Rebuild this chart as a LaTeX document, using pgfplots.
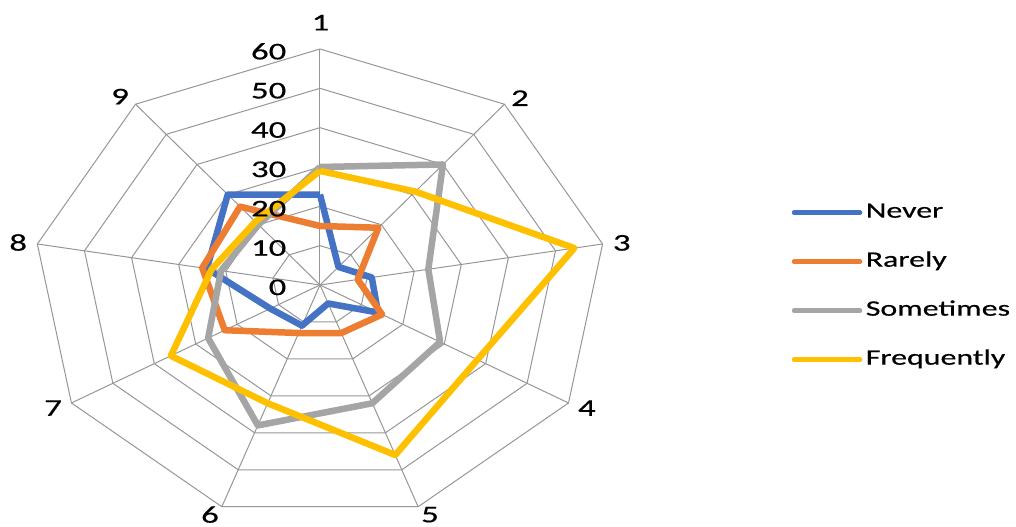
\documentclass[border=0pt]{standalone}
\usepackage{pgfplots}
\pgfplotsset{compat=1.18}
\usepackage{pgfplotstable}
\usepackage{fontspec}
\setmainfont{Carlito}[FakeStretch=1.45, FakeBold=0.5]

\definecolor{cnever}{RGB}{68,114,196}
\definecolor{crarely}{RGB}{237,125,49}
\definecolor{csome}{RGB}{165,165,165}
\definecolor{cfreq}{RGB}{255,192,0}
\definecolor{cgrid}{RGB}{150,150,150}

% a = angle of the spoke (degrees), values per series
\pgfplotstableread{
a     never rarely sometimes frequently
90    23    15     30        29
50    6     19     40        31
10    11    8      23        54
-30   14    15     29        38
-70   5     13     32        46
-110  11    13     38        32
-150  12    23     27        36
-190  24    25     21        23
-230  30    26     20        21
-270  23    15     30        29
}\datatable

\begin{document}
\begin{tikzpicture}
\begin{axis}[
  name=ax,
  hide axis,
  x=4.783pt, y=3.933pt,
  xmin=-66.90, xmax=145.52,
  ymin=-61.53, ymax=72.46,
  clip=false,
  legend style={
    at={(axis cs:98.6,-0.3)}, anchor=west,
    draw=none, fill=none, inner sep=0pt,
    font=\fontsize{22}{26}\selectfont,
    row sep=22pt,
    nodes={inner sep=3.5pt, text height=15pt, text depth=5pt},
  },
  legend cell align=left,
  legend image code/.code={\draw[#1, line width=4.5pt, line cap=round] (0pt,0pt) -- (66pt,0pt);},
]
% grid rings
\pgfplotsinvokeforeach{10,20,30,40,50,60}{
  \addplot[cgrid, line width=1pt, forget plot] table[x expr={#1*cos(\thisrow{a})}, y expr={#1*sin(\thisrow{a})}] {\datatable};
}
% spokes
\pgfplotsinvokeforeach{90,50,10,-30,-70,-110,-150,-190,-230}{
  \draw[cgrid, line width=1pt] (axis cs:0,0) -- (axis cs:{60*cos(#1)},{60*sin(#1)});
}

\addplot[cnever, line width=6.5pt, line join=round] table[x expr={\thisrow{never}*cos(\thisrow{a})}, y expr={\thisrow{never}*sin(\thisrow{a})}] {\datatable};
\addlegendentry{Never}
\addplot[crarely, line width=6.5pt, line join=round] table[x expr={\thisrow{rarely}*cos(\thisrow{a})}, y expr={\thisrow{rarely}*sin(\thisrow{a})}] {\datatable};
\addlegendentry{Rarely}
\addplot[csome, line width=6.5pt, line join=round] table[x expr={\thisrow{sometimes}*cos(\thisrow{a})}, y expr={\thisrow{sometimes}*sin(\thisrow{a})}] {\datatable};
\addlegendentry{Sometimes}
\addplot[cfreq, line width=6.5pt, line join=round] table[x expr={\thisrow{frequently}*cos(\thisrow{a})}, y expr={\thisrow{frequently}*sin(\thisrow{a})}] {\datatable};
\addlegendentry{Frequently}

% radial tick labels
\pgfplotsinvokeforeach{0,10,20,30,40,50,60}{
  \node[anchor=east, inner sep=0pt, font=\fontsize{24}{28}\selectfont] at (axis cs:-7.0,{#1-0.6}) {#1};
}
% category labels
\node[inner sep=0pt, font=\fontsize{24}{28}\selectfont] at (axis cs:0.1,66.7) {1};
\node[inner sep=0pt, font=\fontsize{24}{28}\selectfont] at (axis cs:41.8,47.5) {2};
\node[inner sep=0pt, font=\fontsize{24}{28}\selectfont] at (axis cs:63.1,10.7) {3};
\node[inner sep=0pt, font=\fontsize{24}{28}\selectfont] at (axis cs:55.8,-31.3) {4};
\node[inner sep=0pt, font=\fontsize{24}{28}\selectfont] at (axis cs:23.0,-58.4) {5};
\node[inner sep=0pt, font=\fontsize{24}{28}\selectfont] at (axis cs:-23.0,-58.4) {6};
\node[inner sep=0pt, font=\fontsize{24}{28}\selectfont] at (axis cs:-55.8,-31.3) {7};
\node[inner sep=0pt, font=\fontsize{24}{28}\selectfont] at (axis cs:-63.1,10.8) {8};
\node[inner sep=0pt, font=\fontsize{24}{28}\selectfont] at (axis cs:-41.8,47.9) {9};
\end{axis}
\pgfresetboundingbox
\path[use as bounding box] (ax.south west) rectangle (ax.north east);
\end{tikzpicture}
\end{document}
